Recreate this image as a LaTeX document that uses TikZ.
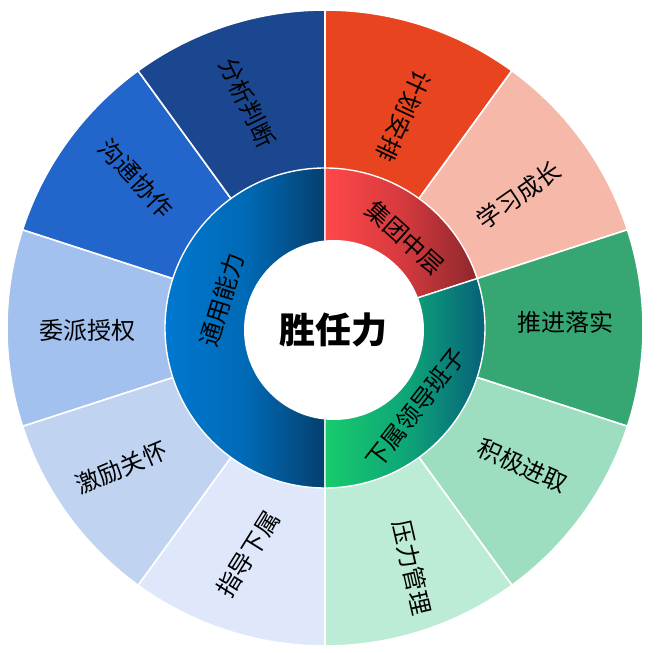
\documentclass[tikz,border=0pt]{standalone}
\usepackage{fontspec}
\newfontfamily\cjk{Noto Sans CJK SC}

% outer ring colours
\definecolor{fenxi}{HTML}{1B4690}
\definecolor{goutong}{HTML}{2266CC}
\definecolor{weipai}{HTML}{A2C1EE}
\definecolor{jili}{HTML}{C0D4F2}
\definecolor{zhidao}{HTML}{DEE8FA}
\definecolor{yali}{HTML}{BCECD6}
\definecolor{jiji}{HTML}{9EDEC0}
\definecolor{tuijin}{HTML}{36A672}
\definecolor{xuexi}{HTML}{F6B8A8}
\definecolor{jihua}{HTML}{E8441F}
% inner ring gradients
\definecolor{tyL}{HTML}{0078D0}
\definecolor{tyM}{HTML}{006AB6}
\definecolor{tyR}{HTML}{053F6E}
\definecolor{jtL}{HTML}{FF4848}
\definecolor{jtM}{HTML}{D63A3E}
\definecolor{jtR}{HTML}{8C282C}
\definecolor{xsL}{HTML}{17CB6D}
\definecolor{xsM}{HTML}{0EA478}
\definecolor{xsR}{HTML}{065A7A}

\begin{document}
\begin{tikzpicture}[
  x=1pt, y=1pt,
  seg/.style={draw=white, line width=1.6pt},
  ring/.style={draw=white, line width=1.4pt},
  lbl/.style={font=\cjk\fontsize{24}{24}\selectfont, inner sep=0pt},
  hub/.style={circle, fill=white, minimum size=180pt, inner sep=0pt,
              font=\cjk\bfseries\fontsize{36}{36}\selectfont}]

  \useasboundingbox (-325,-325) rectangle (337,328);

  % ---- outer ring ---------------------------------------------------------
  \path[seg, fill=jihua]   (0,0) -- (54:318)   arc[start angle=54,   end angle=90,   radius=318] -- cycle;
  \path[seg, fill=xuexi]   (0,0) -- (18:318)   arc[start angle=18,   end angle=54,   radius=318] -- cycle;
  \path[seg, fill=tuijin]  (0,0) -- (-18:318)  arc[start angle=-18,  end angle=18,   radius=318] -- cycle;
  \path[seg, fill=jiji]    (0,0) -- (-54:318)  arc[start angle=-54,  end angle=-18,  radius=318] -- cycle;
  \path[seg, fill=yali]    (0,0) -- (-90:318)  arc[start angle=-90,  end angle=-54,  radius=318] -- cycle;
  \path[seg, fill=zhidao]  (0,0) -- (-126:318) arc[start angle=-126, end angle=-90,  radius=318] -- cycle;
  \path[seg, fill=jili]    (0,0) -- (-162:318) arc[start angle=-162, end angle=-126, radius=318] -- cycle;
  \path[seg, fill=weipai]  (0,0) -- (162:318)  arc[start angle=162,  end angle=198,  radius=318] -- cycle;
  \path[seg, fill=goutong] (0,0) -- (126:318)  arc[start angle=126,  end angle=162,  radius=318] -- cycle;
  \path[seg, fill=fenxi]   (0,0) -- (90:318)   arc[start angle=90,   end angle=126,  radius=318] -- cycle;

  % ---- inner ring ---------------------------------------------------------
  \shadedraw[ring, left color=tyL, right color=tyR, middle color=tyM]
    (0,0) -- (90:160) arc[start angle=90, end angle=270, radius=160] -- cycle;
  \shadedraw[ring, left color=jtL, right color=jtR, middle color=jtM]
    (0,0) -- (18:160) arc[start angle=18, end angle=90, radius=160] -- cycle;
  \shadedraw[ring, left color=xsL, right color=xsR, middle color=xsM]
    (0,0) -- (-90:160) arc[start angle=-90, end angle=18, radius=160] -- cycle;

  % ---- hub ----------------------------------------------------------------
  \node[hub] (core) at (9,-2) {胜任力};

  % ---- labels, outer ------------------------------------------------------
  \node[lbl, rotate=-115] (lJihua)   at (69.6:226)   {计划安排};
  \node[lbl, rotate=35]   (lXuexi)   at (34.4:235)   {学习成长};
  \node[lbl]              (lTuijin)  at (241,6)      {推进落实};
  \node[lbl, rotate=-24]  (lJiji)    at (-34.9:241)  {积极进取};
  \node[lbl, rotate=-77]  (lYali)    at (-70:255)    {压力管理};
  \node[lbl, rotate=58]   (lZhidao)  at (-108.8:239) {指导下属};
  \node[lbl, rotate=23]   (lJili)    at (-145.5:247) {激励关怀};
  \node[lbl]              (lWeipai)  at (-237,-2)    {委派授权};
  \node[lbl, rotate=-47]  (lGoutong) at (141.6:241)  {沟通协作};
  \node[lbl, rotate=-64]  (lFenxi)   at (109:238)    {分析判断};

  % ---- labels, inner ------------------------------------------------------
  \node[lbl, rotate=73]  (lTongyong) at (-103,28) {通用能力};
  \node[lbl, rotate=-42] (lJituan)   at (80,90)   {集团中层};
  \node[lbl, rotate=52]  (lXiashu)   at (91,-80)  {下属领导班子};
\end{tikzpicture}
\end{document}
